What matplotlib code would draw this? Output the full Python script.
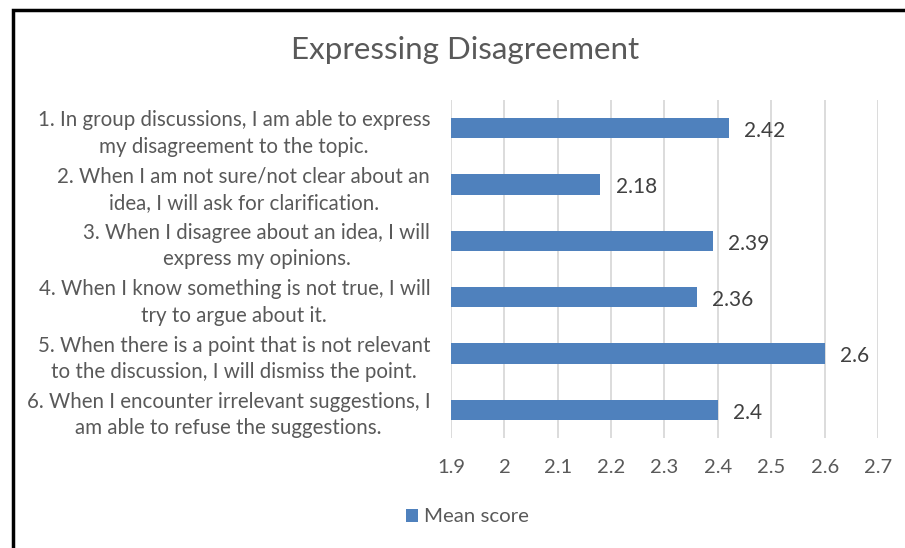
import matplotlib.pyplot as plt
from matplotlib.patches import Rectangle

# --- Data ---
ITEMS = [
    "1. In group discussions, I am able to express\nmy disagreement to the topic.",
    "2. When I am not sure/not clear about an\nidea, I will ask for clarification.",
    "3. When I disagree about an idea, I will\nexpress my opinions.",
    "4. When I know something is not true, I will\ntry to argue about it.",
    "5. When there is a point that is not relevant\nto the discussion, I will dismiss the point.",
    "6. When I encounter irrelevant suggestions, I\nam able to refuse the suggestions.",
]
MEAN_SCORES = [2.42, 2.18, 2.39, 2.36, 2.6, 2.4]
VALUE_LABELS = ["2.42", "2.18", "2.39", "2.36", "2.6", "2.4"]
X_TICKS = [1.9, 2.0, 2.1, 2.2, 2.3, 2.4, 2.5, 2.6, 2.7]
X_TICK_LABELS = ["1.9", "2", "2.1", "2.2", "2.3", "2.4", "2.5", "2.6", "2.7"]

BAR_COLOR = '#4f81bd'
TEXT_COLOR = '#595959'
GRID_COLOR = '#d9d9d9'

plt.rcParams['font.family'] = ['Lato', 'DejaVu Sans']

W, H = 905, 548
fig = plt.figure(figsize=(W / 100, H / 100), dpi=100)
ax = fig.add_axes([451 / W, 1 - 438 / H, (878 - 451) / W, (438 - 100) / H])

y_pos = list(range(len(ITEMS)))
ax.barh(y_pos, [v - 1.9 for v in MEAN_SCORES], left=1.9, height=0.36,
        color=BAR_COLOR, label='Mean score', zorder=3)

for y, v, lbl in zip(y_pos, MEAN_SCORES, VALUE_LABELS):
    ax.annotate(lbl, (v, y), xytext=(11, -2), textcoords='offset points',
                va='center', ha='left', fontsize=15, color='#404040')

ax.set_xlim(1.9, 2.7)
ax.set_ylim(len(ITEMS) - 0.5, -0.5)
ax.set_xticks(X_TICKS)
ax.set_xticklabels(X_TICK_LABELS, fontsize=14.5, color=TEXT_COLOR)
ax.set_yticks(y_pos)
ax.set_yticklabels(ITEMS, fontsize=14.8, color=TEXT_COLOR, multialignment='center',
                   linespacing=1.4)
ax.tick_params(axis='both', length=0)
ax.tick_params(axis='y', pad=15)
ax.tick_params(axis='x', pad=15)

ax.grid(axis='x', color=GRID_COLOR, linewidth=1.3, zorder=0)
for side, spine in ax.spines.items():
    spine.set_visible(False)

fig.text(465 / W, 1 - 50 / H, 'Expressing Disagreement', ha='center', va='center',
         fontsize=22.5, color=TEXT_COLOR)

fig.legend(loc='center left', bbox_to_anchor=(406 / W, 1 - 517 / H), frameon=False,
           fontsize=14.7, labelcolor=TEXT_COLOR, handlelength=0.6, handleheight=0.6,
           handletextpad=0.3, borderpad=0, borderaxespad=0)

# chart border (cut off at right and bottom in the original)
fig.add_artist(Rectangle((12.5 / W, -0.05), 1.0, 1.05 - 10.5 / H, transform=fig.transFigure,
                         fill=False, edgecolor='black', linewidth=2.5))

fig.savefig('out.png', dpi=100, facecolor='white')
